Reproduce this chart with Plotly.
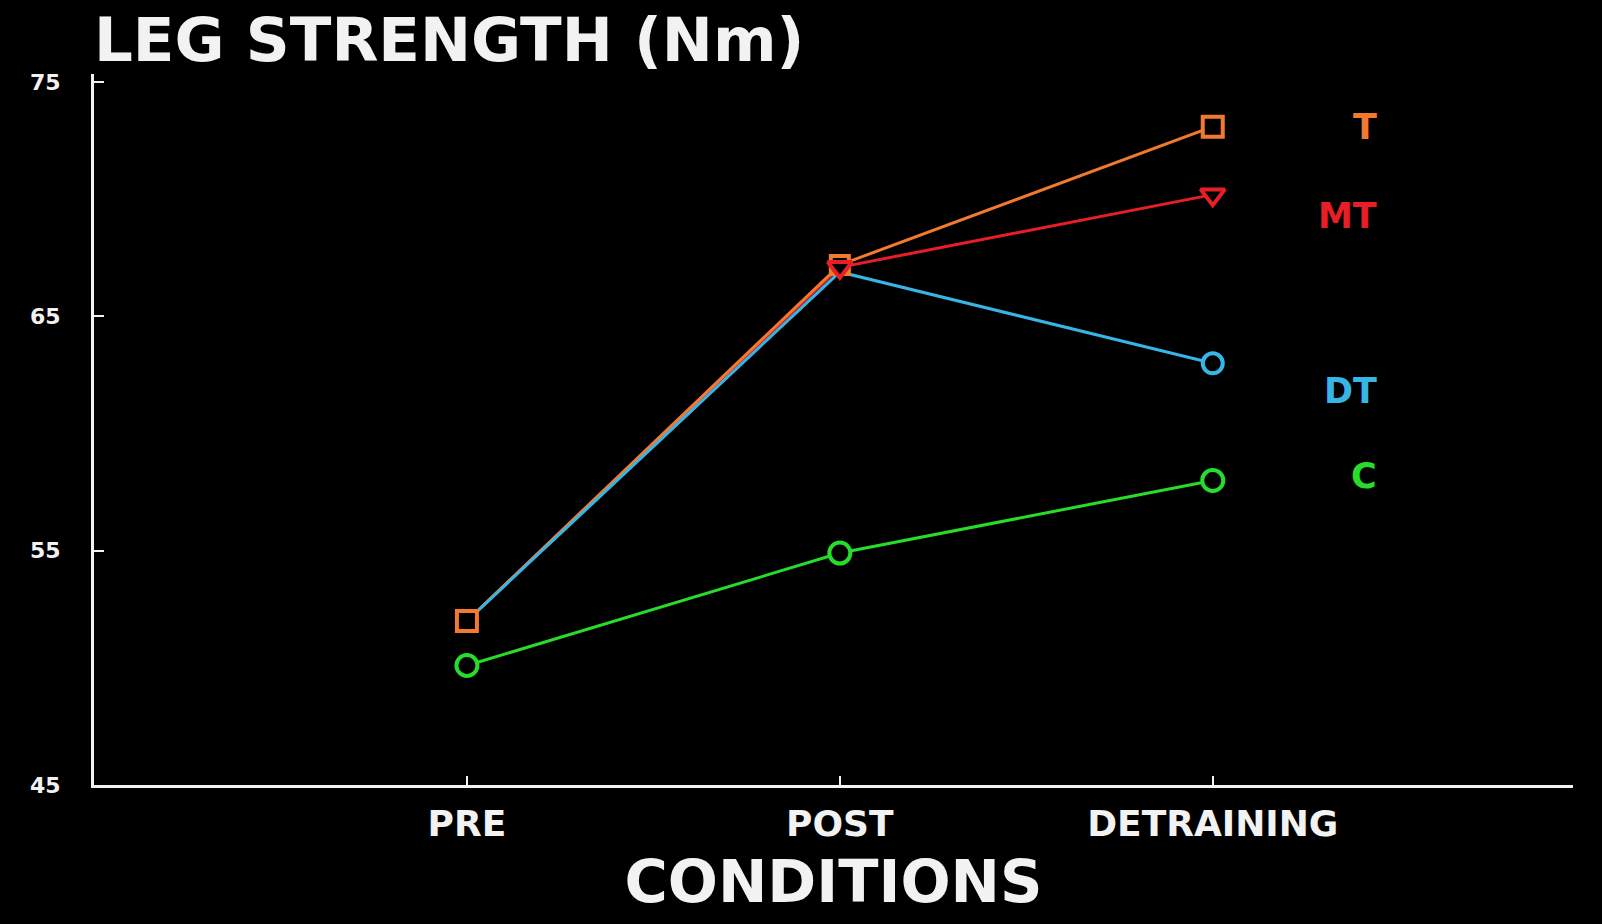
import plotly.graph_objects as go

conditions = ["PRE", "POST", "DETRAINING"]
t_vals = [52.0, 67.2, 73.1]
mt_vals = [52.0, 67.1, 70.2]
dt_vals = [52.0, 66.9, 63.0]
c_vals = [50.1, 54.9, 58.0]
y_ticks = [45, 55, 65, 75]
y_ticklabels = ["45", "55", "65", "75"]

ORANGE = "#F27A2E"
RED = "#E81E26"
BLUE = "#36B6E6"
GREEN = "#27DD2A"
WHITE = "#F2F2F2"

fig = go.Figure()

series = [
    ("MT", mt_vals, RED, "triangle-down", [0, 21, 21]),
    ("T", t_vals, ORANGE, "square", [20, 18, 20]),
    ("DT", dt_vals, BLUE, "circle", [0, 0, 20]),
    ("C", c_vals, GREEN, "circle", [21, 21, 21]),
]

for name, vals, color, sym, sizes in series:
    fig.add_trace(go.Scatter(
        x=conditions, y=vals, mode="lines", name=name,
        line=dict(color=color, width=3), showlegend=False, hoverinfo="skip"))

for name, vals, color, sym, sizes in [series[1], series[0], series[2], series[3]]:
    fig.add_trace(go.Scatter(
        x=conditions, y=vals, mode="markers", name=name,
        marker=dict(symbol=sym, size=sizes, color="black", opacity=1,
                    line=dict(color=color, width=4)),
        showlegend=False))

labels = [("T", 73.1, ORANGE), ("MT", 69.3, RED), ("DT", 61.8, BLUE), ("C", 58.2, GREEN)]
for txt, yv, col in labels:
    fig.add_annotation(x=2.445, y=yv, xref="x", yref="y", text=txt, showarrow=False,
                       xanchor="right", yanchor="middle",
                       font=dict(family="DejaVu Sans", size=35, color=col, weight="bold"))

fig.update_layout(
    width=1602, height=924,
    paper_bgcolor="black", plot_bgcolor="black",
    margin=dict(l=94, r=29, t=74, b=139),
    title=dict(text="LEG STRENGTH (Nm)", x=94 / 1602, xanchor="left",
               y=1 - 40 / 924, yanchor="middle",
               font=dict(family="DejaVu Sans", size=61, color=WHITE, weight="bold")),
    xaxis=dict(type="category", range=[-1.0, 2.966], showgrid=False, zeroline=False,
               showline=True, linecolor=WHITE, linewidth=3,
               ticks="inside", ticklen=9, tickwidth=2, tickcolor=WHITE,
               ticklabelstandoff=5,
               tickfont=dict(family="DejaVu Sans", size=36, color=WHITE, weight="bold"),
               title=dict(text="CONDITIONS", standoff=18,
                          font=dict(family="DejaVu Sans", size=59, color=WHITE, weight="bold"))),
    yaxis=dict(range=[45, 75.35], showgrid=False, zeroline=False,
               showline=True, linecolor=WHITE, linewidth=3,
               tickvals=y_ticks, ticktext=y_ticklabels,
               ticks="inside", ticklen=10, tickwidth=2, tickcolor=WHITE,
               ticklabelstandoff=26,
               tickfont=dict(family="DejaVu Sans", size=22, color=WHITE, weight="bold")),
)

fig.write_html("out.html", config={"displayModeBar": False},
               post_script="document.body.style.margin='0';document.body.style.background='black';")
